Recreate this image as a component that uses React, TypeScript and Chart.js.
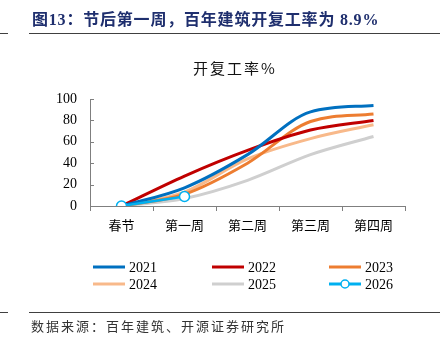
import { useEffect, useRef } from "react";
import { Chart, registerables } from "chart.js";

Chart.register(...registerables);

const categories = ["春节", "第一周", "第二周", "第三周", "第四周"];
const seriesNames = ["2021", "2022", "2023", "2024", "2025", "2026"];
const s2021 = [0, 17, 48, 88, 94];
const s2022 = [0, 28, 52, 71, 80];
const s2023 = [0, 11, 40, 79, 86];
const s2024 = [0, 13, 44, 63, 76];
const s2025 = [0, 7, 24, 48, 65];
const s2026 = [0, 8.9, null, null, null];
const seriesColors = ["#0070C0", "#C00000", "#ED7D31", "#F8B98A", "#CFCFCF", "#00B0F0"];
const yMin = 0;
const yMax = 100;
const yStep = 20;

const titleText = "图13：节后第一周，百年建筑开复工率为 8.9%";
const chartTitle = "开复工率%";
const sourceText = "数据来源：百年建筑、开源证券研究所";

const AXIS = "#7F7F7F";
const SERIF = "'Liberation Serif', 'Noto Sans CJK SC'";
const CJK = "'Noto Sans CJK SC', 'Liberation Serif'";

const decorPlugin = {
  id: "decor",
  beforeDraw(chart: any) {
    const ctx = chart.ctx;
    ctx.save();
    ctx.fillStyle = "#ffffff";
    ctx.fillRect(0, 0, chart.width, chart.height);
    ctx.restore();
  },
  afterDraw(chart: any) {
    const ctx = chart.ctx;
    ctx.save();
    // header
    ctx.fillStyle = "#1F2F6E";
    ctx.font = `bold 16px ${SERIF}`;
    ctx.textBaseline = "middle";
    ctx.textAlign = "left";
    (ctx as any).letterSpacing = "0.8px";
    ctx.fillText(titleText, 32, 21);
    (ctx as any).letterSpacing = "0px";

    ctx.strokeStyle = "#404040";
    ctx.lineWidth = 1;
    ctx.beginPath();
    ctx.moveTo(0, 33.5);
    ctx.lineTo(8, 33.5);
    ctx.moveTo(29, 33.5);
    ctx.lineTo(440, 33.5);
    ctx.moveTo(0, 312.5);
    ctx.lineTo(8, 312.5);
    ctx.moveTo(29, 312.5);
    ctx.lineTo(440, 312.5);
    ctx.stroke();

    // chart title
    ctx.fillStyle = "#111";
    ctx.font = `15px ${CJK}`;
    ctx.textAlign = "center";
    (ctx as any).letterSpacing = "2px";
    ctx.fillText(chartTitle, 235, 68);

    // source
    ctx.fillStyle = "#333";
    ctx.font = `13px ${CJK}`;
    ctx.textAlign = "left";
    (ctx as any).letterSpacing = "2px";
    ctx.fillText(sourceText, 31, 326);
    (ctx as any).letterSpacing = "0px";

    // y inner tick marks
    const ys = chart.scales.y;
    const left = chart.chartArea.left;
    ctx.strokeStyle = AXIS;
    ctx.lineWidth = 1;
    ctx.beginPath();
    for (const t of ys.ticks) {
      const py = Math.round(ys.getPixelForValue(t.value)) + 0.5;
      ctx.moveTo(left, py);
      ctx.lineTo(left + 4, py);
    }
    ctx.stroke();

    // legend 3 x 2
    const colX = [93, 212, 329];
    const rowY = [267, 284];
    chart.data.datasets.forEach((ds: any, i: number) => {
      const x = colX[i % 3];
      const y = rowY[Math.floor(i / 3)];
      ctx.strokeStyle = ds.borderColor;
      ctx.lineWidth = 3;
      ctx.beginPath();
      ctx.moveTo(x, y);
      ctx.lineTo(x + 32, y);
      ctx.stroke();
      if (ds.pointRadius > 0) {
        ctx.fillStyle = "#fff";
        ctx.lineWidth = 1.5;
        ctx.beginPath();
        ctx.arc(x + 16, y, 4, 0, Math.PI * 2);
        ctx.fill();
        ctx.stroke();
      }
      ctx.fillStyle = "#000";
      ctx.font = `14px ${SERIF}`;
      ctx.textAlign = "left";
      ctx.textBaseline = "middle";
      ctx.fillText(ds.label, x + 36, y + 1);
    });
    ctx.restore();
  },
};

export default function App() {
  const ref = useRef<HTMLCanvasElement | null>(null);
  useEffect(() => {
    if (!ref.current) return;
    const values = [s2021, s2022, s2023, s2024, s2025, s2026];
    const chart = new Chart(ref.current, {
      type: "line",
      data: {
        labels: categories,
        datasets: values.map((v, i) => {
          const last = i === values.length - 1;
          return {
            label: seriesNames[i],
            data: v,
            borderColor: seriesColors[i],
            backgroundColor: last ? "#ffffff" : seriesColors[i],
            borderWidth: last ? 2.5 : 3,
            pointRadius: last ? 5 : 0,
            pointHoverRadius: last ? 5 : 0,
            pointBorderWidth: 1.5,
            pointBackgroundColor: "#ffffff",
            pointBorderColor: seriesColors[i],
            cubicInterpolationMode: "monotone" as const,
            spanGaps: false,
            order: last ? -1 : i,
            fill: false,
          };
        }),
      },
      options: {
        responsive: false,
        animation: false,
        devicePixelRatio: 1,
        layout: { padding: { top: 99, bottom: 100, left: 0, right: 42 } },
        plugins: {
          legend: { display: false },
          title: { display: false },
          tooltip: { enabled: false },
        },
        scales: {
          x: {
            type: "category",
            offset: true,
            grid: {
              display: true,
              drawOnChartArea: false,
              drawTicks: true,
              tickLength: 5,
              color: AXIS,
              offset: true,
            },
            border: { display: true, color: AXIS, width: 1 },
            ticks: {
              color: "#000",
              font: { family: CJK, size: 13 },
              padding: 6,
              maxRotation: 0,
              autoSkip: false,
            },
            afterFit: (s: any) => {
              s.height = 36;
            },
          },
          y: {
            min: yMin,
            max: yMax,
            grid: { display: false, drawTicks: false },
            border: { display: true, color: AXIS, width: 1 },
            ticks: {
              stepSize: yStep,
              color: "#000",
              font: { family: SERIF, size: 14 },
              padding: 13,
            },
            afterFit: (s: any) => {
              s.width = 90;
            },
          },
        },
      },
      plugins: [decorPlugin],
    });
    return () => chart.destroy();
  }, []);
  return (
    <div style={{ position: "fixed", left: 0, top: 0, width: 447, height: 342, background: "#fff" }}>
      <canvas ref={ref} width={447} height={342} style={{ display: "block", width: 447, height: 342 }} />
    </div>
  );
}
